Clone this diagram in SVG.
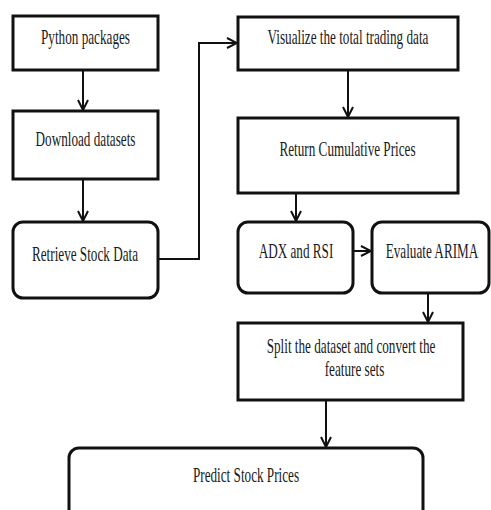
<svg xmlns="http://www.w3.org/2000/svg" width="491" height="510" viewBox="0 0 491 510">
<style>
.box{fill:#fff;stroke:#111;stroke-width:3}
.t{font-family:"Liberation Serif","Times New Roman",serif;font-size:21px;fill:#1a1a1a;text-anchor:middle}
.c{fill:none;stroke:#111;stroke-width:2}
</style>
<defs>
<marker id="a" viewBox="0 0 12 12" refX="11" refY="6" markerWidth="12" markerHeight="12" markerUnits="userSpaceOnUse" orient="auto">
<polyline points="1,1 11,6 1,11" fill="none" stroke="#111" stroke-width="2"/>
</marker>
</defs>
<rect width="491" height="510" fill="#fff"/>
<g id="connectors">
<line class="c" x1="83" y1="71" x2="83" y2="110" marker-end="url(#a)"/>
<line class="c" x1="83" y1="180" x2="83" y2="221" marker-end="url(#a)"/>
<polyline class="c" points="158,259 199,259 199,43 237,43" marker-end="url(#a)"/>
<line class="c" x1="348" y1="71" x2="348" y2="117" marker-end="url(#a)"/>
<line class="c" x1="296" y1="194" x2="296" y2="221" marker-end="url(#a)"/>
<line class="c" x1="354" y1="251" x2="371" y2="251" marker-end="url(#a)"/>
<line class="c" x1="428" y1="294" x2="428" y2="322" marker-end="url(#a)"/>
<line class="c" x1="326" y1="401" x2="326" y2="447" marker-end="url(#a)"/>
</g>
<g id="python"><rect class="box" x="13" y="16" width="145" height="54"/><text class="t" transform="translate(85.5,44) scale(0.628,1)">Python packages</text></g>
<g id="download"><rect class="box" x="13" y="111" width="145" height="68"/><text class="t" transform="translate(85.5,146) scale(0.628,1)">Download datasets</text></g>
<g id="retrieve"><rect class="box" x="13" y="222" width="145" height="76" rx="10"/><text class="t" transform="translate(85,261) scale(0.628,1)">Retrieve Stock Data</text></g>
<g id="visualize"><rect class="box" x="238" y="17" width="220" height="53"/><text class="t" transform="translate(348,44) scale(0.628,1)">Visualize the total trading data</text></g>
<g id="cumulative"><rect class="box" x="238" y="118" width="220" height="75"/><text class="t" transform="translate(347.5,156) scale(0.628,1)">Return Cumulative Prices</text></g>
<g id="adx"><rect class="box" x="238" y="222" width="115" height="71" rx="10"/><text class="t" transform="translate(296,258) scale(0.628,1)">ADX and RSI</text></g>
<g id="arima"><rect class="box" x="372" y="222" width="117" height="71" rx="10"/><text class="t" transform="translate(432,258) scale(0.628,1)">Evaluate ARIMA</text></g>
<g id="split"><rect class="box" x="238" y="323" width="225" height="77"/><text class="t" transform="translate(351,352.5) scale(0.628,1)">Split the dataset and convert the</text><text class="t" transform="translate(354.5,376) scale(0.628,1)">feature sets</text></g>
<g id="predict"><rect class="box" x="69" y="448" width="354" height="72" rx="10"/><text class="t" transform="translate(246,482) scale(0.628,1)">Predict Stock Prices</text></g>
</svg>
